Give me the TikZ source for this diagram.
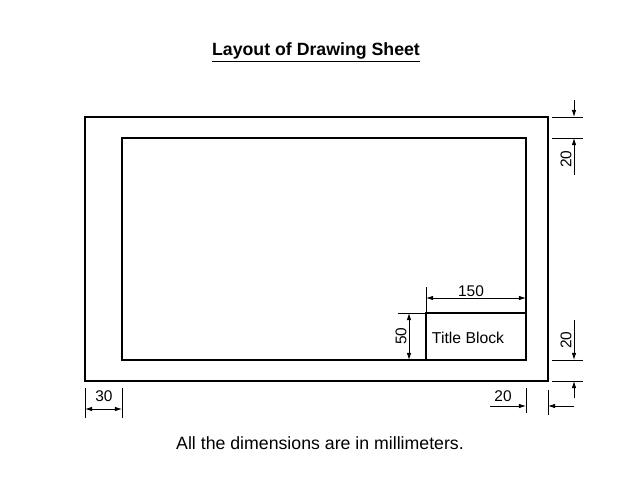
\documentclass[tikz,border=0pt]{standalone}
\usepackage{fontspec}
\setmainfont{Liberation Sans}
\usetikzlibrary{positioning,calc,arrows.meta}

\begin{document}
\begin{tikzpicture}[
						x=0.025cm, y=-0.025cm,
						% Nét viền khổ giấy
						sheet_line/.style={draw=black, line width=1.4pt},
						% Nét kích thước
						dim_line/.style={draw=black, line width=0.6pt},
						dim_both/.style={
							dim_line, {Latex[length=5pt,width=3.2pt]}-{Latex[length=5pt,width=3.2pt]}
						},
						dim_one/.style={
							dim_line, -{Latex[length=5pt,width=3.2pt]}
						},
						dim_text/.style={font=\fontsize{11}{13}\selectfont, inner sep=1pt}
						]
						\useasboundingbox (0,0) rectangle (638,479);
						
						% Tiêu đề
						\node[font=\bfseries\fontsize{12.6}{15}\selectfont] (title) at (316,52) {\underline{Layout of Drawing Sheet}};
						
						% Khung ngoài, khung trong và khung tên
						\coordinate (outer_nw) at (85,117);
						\coordinate (outer_se) at (548,381);
						\coordinate (inner_nw) at (122,138);
						\coordinate (inner_se) at (526,360);
						\coordinate (tb_nw) at (426,313);
						\draw[sheet_line] (outer_nw) rectangle (outer_se);
						\draw[sheet_line] (inner_nw) rectangle (inner_se);
						\draw[sheet_line] (tb_nw) rectangle (inner_se);
						\node[font=\fontsize{11.2}{13}\selectfont] (tb_text) at (468,338) {Title Block};
						
						% Kích thước 150
						\coordinate (d150_l) at (426,298);
						\coordinate (d150_r) at (526,298);
						\coordinate (d150_e) at (426,287);
						\draw[dim_line] (tb_nw) -- (d150_e);
						\draw[dim_both] (d150_l) -- (d150_r);
						\node[dim_text, above=0pt of $(d150_l)!0.45!(d150_r)$] (t150) {150};
						
						% Kích thước 50
						\coordinate (d50_e) at (398,313);
						\coordinate (d50_t) at (409,313);
						\coordinate (d50_b) at (409,360);
						\draw[dim_line] (d50_e) -- (tb_nw);
						\draw[dim_both] (d50_t) -- (d50_b);
						\node[dim_text, rotate=90] (t50) at (401,336) {50};
						
						% Kích thước 20 bên phải (trên)
						\coordinate (rt1_a) at (552,117);
						\coordinate (rt1_b) at (583,117);
						\coordinate (rt2_a) at (552,138);
						\coordinate (rt2_b) at (583,138);
						\coordinate (rt_in) at (574,100);
						\coordinate (rt_out) at (574,175);
						\draw[dim_line] (rt1_a) -- (rt1_b);
						\draw[dim_line] (rt2_a) -- (rt2_b);
						\draw[dim_one] (rt_in) -- (rt1_b -| rt_in);
						\draw[dim_one] (rt_out) -- (rt2_b -| rt_out);
						\node[dim_text, rotate=90] (t20_top) at (566,159) {20};
						
						% Kích thước 20 bên phải (dưới)
						\coordinate (rb1_a) at (552,360);
						\coordinate (rb1_b) at (583,360);
						\coordinate (rb2_a) at (552,381);
						\coordinate (rb2_b) at (583,381);
						\coordinate (rb_in) at (574,320);
						\coordinate (rb_out) at (574,398);
						\draw[dim_line] (rb1_a) -- (rb1_b);
						\draw[dim_line] (rb2_a) -- (rb2_b);
						\draw[dim_one] (rb_in) -- (rb1_b -| rb_in);
						\draw[dim_one] (rb_out) -- (rb2_b -| rb_out);
						\node[dim_text, rotate=90] (t20_bot) at (566,340) {20};
						
						% Kích thước 20 phía dưới
						\coordinate (bd1_a) at (526,388);
						\coordinate (bd1_b) at (526,413);
						\coordinate (bd2_a) at (548,390);
						\coordinate (bd2_b) at (548,415);
						\coordinate (bd_in) at (490,406);
						\coordinate (bd_out) at (574,406);
						\draw[dim_line] (bd1_a) -- (bd1_b);
						\draw[dim_line] (bd2_a) -- (bd2_b);
						\draw[dim_one] (bd_in) -- (bd_in -| bd1_a);
						\draw[dim_one] (bd_out) -- (bd_out -| bd2_a);
						\node[dim_text] (t20_low) at (503,396) {20};
						
						% Kích thước 30
						\coordinate (d30_la) at (85,388);
						\coordinate (d30_lb) at (85,418);
						\coordinate (d30_ra) at (122,388);
						\coordinate (d30_rb) at (122,418);
						\draw[dim_line] (d30_la) -- (d30_lb);
						\draw[dim_line] (d30_ra) -- (d30_rb);
						\draw[dim_both] (85,409) coordinate (d30_l) -- (122,409) coordinate (d30_r);
						\node[dim_text] (t30) at (104,396) {30};
						
						% Ghi chú
						\node[font=\fontsize{12.6}{15}\selectfont] (note) at (320,443) {All the dimensions are in millimeters.};
						
					\end{tikzpicture}
\end{document}
